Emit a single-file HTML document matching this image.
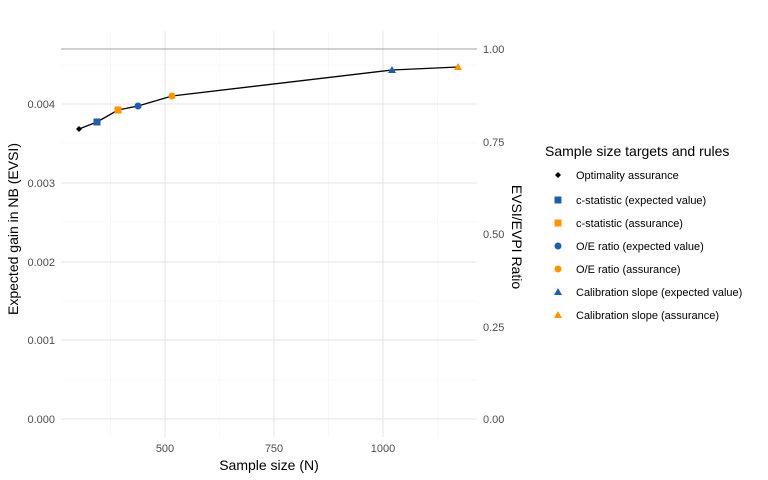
<!DOCTYPE html>
<html><head><meta charset="utf-8"><style>body{margin:0;background:#fff}svg{display:block}text{font-family:"Liberation Sans",sans-serif}</style></head><body>
<svg width="768" height="480" viewBox="0 0 768 480">
<g stroke="#f3f3f3" stroke-width="0.6">
<line x1="61" x2="477" y1="380" y2="380"/><line x1="61" x2="477" y1="301" y2="301"/><line x1="61" x2="477" y1="222" y2="222"/><line x1="61" x2="477" y1="143" y2="143"/><line x1="61" x2="477" y1="65" y2="65"/>
<line x1="110.5" x2="110.5" y1="31" y2="437"/><line x1="219.5" x2="219.5" y1="31" y2="437"/><line x1="328.5" x2="328.5" y1="31" y2="437"/><line x1="437.5" x2="437.5" y1="31" y2="437"/>
</g>
<g stroke="#e6e6e6" stroke-width="1.1">
<line x1="61" x2="477" y1="419" y2="419"/><line x1="61" x2="477" y1="340" y2="340"/><line x1="61" x2="477" y1="262" y2="262"/><line x1="61" x2="477" y1="183" y2="183"/><line x1="61" x2="477" y1="104" y2="104"/>
<line x1="165" x2="165" y1="31" y2="437"/><line x1="274" x2="274" y1="31" y2="437"/><line x1="383" x2="383" y1="31" y2="437"/>
</g>
<line x1="61" x2="477" y1="49" y2="49" stroke="#b3b3b3" stroke-width="1.2"/>
<polyline points="79,129 97,122 118,110 138,106 172,96 392,70 458,67" fill="none" stroke="#000" stroke-width="1.3"/>
<path d="M79,126 L82,129 L79,132 L76,129Z" fill="#000"/>
<rect x="93.5" y="118.5" width="7" height="7" fill="#1f5fa6"/>
<rect x="114.5" y="106.5" width="7" height="7" fill="#ff9400"/>
<circle cx="138" cy="106" r="3.5" fill="#1f5fa6"/>
<circle cx="172" cy="96" r="3.5" fill="#ff9400"/>
<path d="M392,66 L396,73 L388,73Z" fill="#1f5fa6"/>
<path d="M458,63 L462,70 L454,70Z" fill="#ff9400"/>
<g font-size="11" fill="#4d4d4d" text-anchor="end">
<text x="55" y="423">0.000</text><text x="55" y="344">0.001</text><text x="55" y="266">0.002</text><text x="55" y="187">0.003</text><text x="55" y="108">0.004</text>
</g>
<g font-size="11" fill="#4d4d4d">
<text x="483" y="423">0.00</text><text x="483" y="331">0.25</text><text x="483" y="238">0.50</text><text x="483" y="146">0.75</text><text x="483" y="53">1.00</text>
</g>
<g font-size="11" fill="#4d4d4d" text-anchor="middle">
<text x="165" y="452">500</text><text x="274" y="452">750</text><text x="383" y="452">1000</text>
</g>
<text x="269" y="470" font-size="14" text-anchor="middle">Sample size (N)</text>
<text transform="translate(18,229) rotate(-90)" font-size="14" text-anchor="middle">Expected gain in NB (EVSI)</text>
<text transform="translate(512,237) rotate(90)" font-size="14" text-anchor="middle">EVSI/EVPI Ratio</text>
<text x="545" y="156" font-size="14">Sample size targets and rules</text>
<g font-size="11">
<path d="M558,172 L561,175 L558,178 L555,175Z" fill="#000"/><text x="576" y="179">Optimality assurance</text>
<rect x="554.5" y="196.5" width="7" height="7" fill="#1f5fa6"/><text x="576" y="204">c-statistic (expected value)</text>
<rect x="554.5" y="219.5" width="7" height="7" fill="#ff9400"/><text x="576" y="227">c-statistic (assurance)</text>
<circle cx="558" cy="246" r="3.5" fill="#1f5fa6"/><text x="576" y="250">O/E ratio (expected value)</text>
<circle cx="558" cy="269" r="3.5" fill="#ff9400"/><text x="576" y="273">O/E ratio (assurance)</text>
<path d="M558,288 L562,295 L554,295Z" fill="#1f5fa6"/><text x="576" y="296">Calibration slope (expected value)</text>
<path d="M558,311 L562,318 L554,318Z" fill="#ff9400"/><text x="576" y="319">Calibration slope (assurance)</text>
</g>
</svg>
</body></html>
